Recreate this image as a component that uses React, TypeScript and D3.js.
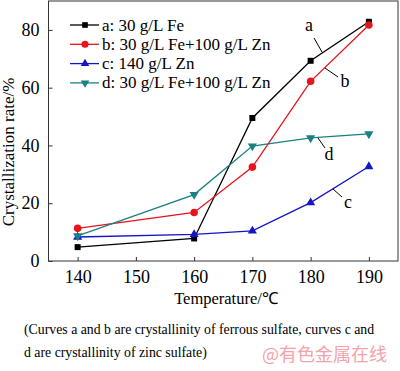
import * as d3 from 'd3';
import React, { useRef, useEffect } from 'react';

const temps = [140, 160, 170, 180, 190];
const seriesA = [4.8, 7.8, 49.5, 69.3, 82.8];
const seriesB = [11.3, 16.8, 32.5, 62.2, 81.7];
const seriesC = [8.3, 9.2, 10.4, 20.2, 32.7];
const seriesD = [8.7, 23.0, 39.8, 42.6, 44.0];
const legendLabels = ['a: 30 g/L Fe', 'b: 30 g/L Fe+100 g/L Zn', 'c: 140 g/L Zn', 'd: 30 g/L Fe+100 g/L Zn'];
const xTicks = [140, 150, 160, 170, 180, 190];
const yTicks = [0, 20, 40, 60, 80];

const colors = ['#000000', '#e8141c', '#1414c8', '#1a8080'];
const markers = [d3.symbolSquare, d3.symbolCircle, d3.symbolTriangle, d3.symbolTriangle];

const App = () => {
    const ref = useRef(null)

    useEffect(() => {
        d3.select(ref.current).selectAll('*').remove()
        const svg = d3.select(ref.current)
        const font = '"Liberation Serif", "Times New Roman", serif'

        const x = d3.scaleLinear().domain([135, 195]).range([48.5, 398])
        const y = d3.scaleLinear().domain([0, 90]).range([261, 1])

        // frame
        svg.append('rect')
            .attr('x', 48.5).attr('y', 1)
            .attr('width', 398 - 48.5).attr('height', 260)
            .attr('fill', 'none').attr('stroke', '#333').attr('stroke-width', 1)

        const xAxis = svg.append('g').attr('transform', 'translate(0,261)')
            .call(d3.axisBottom(x).tickValues(xTicks).tickSizeInner(-4).tickSizeOuter(0).tickPadding(9))
        xAxis.select('.domain').remove()
        xAxis.selectAll('line').attr('stroke', '#333')
        xAxis.selectAll('text').attr('font-family', font).attr('font-size', 18).attr('fill', '#000')

        const yAxis = svg.append('g').attr('transform', 'translate(48.5,0)')
            .call(d3.axisLeft(y).tickValues(yTicks).tickSizeInner(-4).tickSizeOuter(0).tickPadding(9))
        yAxis.select('.domain').remove()
        yAxis.selectAll('line').attr('stroke', '#333')
        yAxis.selectAll('text').attr('font-family', font).attr('font-size', 18).attr('fill', '#000')

        const all = [seriesA, seriesB, seriesC, seriesD]
        const line = d3.line().x((d, i) => x(temps[i])).y(d => y(d))

        all.forEach((s, k) => {
            svg.append('path').datum(s)
                .attr('d', line)
                .attr('fill', 'none')
                .attr('stroke', colors[k])
                .attr('stroke-width', 1.3)
            svg.selectAll(null).data(s).enter().append('path')
                .attr('d', d3.symbol().type(markers[k]).size(k === 1 ? 45 : 36))
                .attr('transform', (d, i) => `translate(${x(temps[i])},${y(d)})` + (k === 3 ? ' rotate(180)' : ''))
                .attr('fill', colors[k])
        })

        // legend
        const lg = svg.append('g')
        legendLabels.forEach((t, k) => {
            const yy = 25 + k * 19.3
            lg.append('line').attr('x1', 70).attr('x2', 99).attr('y1', yy).attr('y2', yy)
                .attr('stroke', colors[k]).attr('stroke-width', 1.3)
            lg.append('path')
                .attr('d', d3.symbol().type(markers[k]).size(k === 1 ? 40 : 32))
                .attr('transform', `translate(85,${yy})` + (k === 3 ? ' rotate(180)' : ''))
                .attr('fill', colors[k])
            lg.append('text').attr('x', 102).attr('y', yy + 5.5)
                .attr('font-family', font).attr('font-size', 17).text(t)
        })

        // curve labels
        const notes = [
            { t: 'a', tx: 309, ty: 31, x1: 314, y1: 38, x2: 322, y2: 52 },
            { t: 'b', tx: 345, ty: 87, x1: 325, y1: 68, x2: 338, y2: 77 },
            { t: 'd', tx: 329, ty: 160, x1: 318, y1: 138, x2: 325, y2: 148 },
            { t: 'c', tx: 348, ty: 208, x1: 333, y1: 189, x2: 342, y2: 197 },
        ]
        notes.forEach(n => {
            svg.append('line').attr('x1', n.x1).attr('y1', n.y1).attr('x2', n.x2).attr('y2', n.y2)
                .attr('stroke', '#000').attr('stroke-width', 1)
            svg.append('text').attr('x', n.tx).attr('y', n.ty).attr('text-anchor', 'middle')
                .attr('font-family', font).attr('font-size', 18).text(n.t)
        })

        // axis titles
        svg.append('text').attr('transform', 'translate(14,152) rotate(-90)')
            .attr('text-anchor', 'middle').attr('font-family', font).attr('font-size', 17)
            .text('Crystallization rate/%')
        svg.append('text').attr('x', 226).attr('y', 304)
            .attr('text-anchor', 'middle').attr('font-family', font).attr('font-size', 16.5)
            .text('Temperature/℃')

        // caption
        svg.append('text').attr('x', 24).attr('y', 334)
            .attr('font-family', font).attr('font-size', 13.8)
            .text('(Curves a and b are crystallinity of ferrous sulfate, curves c and')
        svg.append('text').attr('x', 24).attr('y', 357)
            .attr('font-family', font).attr('font-size', 13.8)
            .text('d are crystallinity of zinc sulfate)')

        // watermark
        svg.append('text').attr('x', 262).attr('y', 361)
            .attr('font-family', '"Noto Sans CJK SC", sans-serif').attr('font-size', 18)
            .attr('fill', '#f4a3ab')
            .text('@有色金属在线')
    }, [])

    return (
        <div style={{ position: 'absolute', left: 0, top: 0 }}>
            <svg ref={ref} width={400} height={371} style={{ display: 'block', background: '#fff' }} />
        </div>
    )
}

export default App
